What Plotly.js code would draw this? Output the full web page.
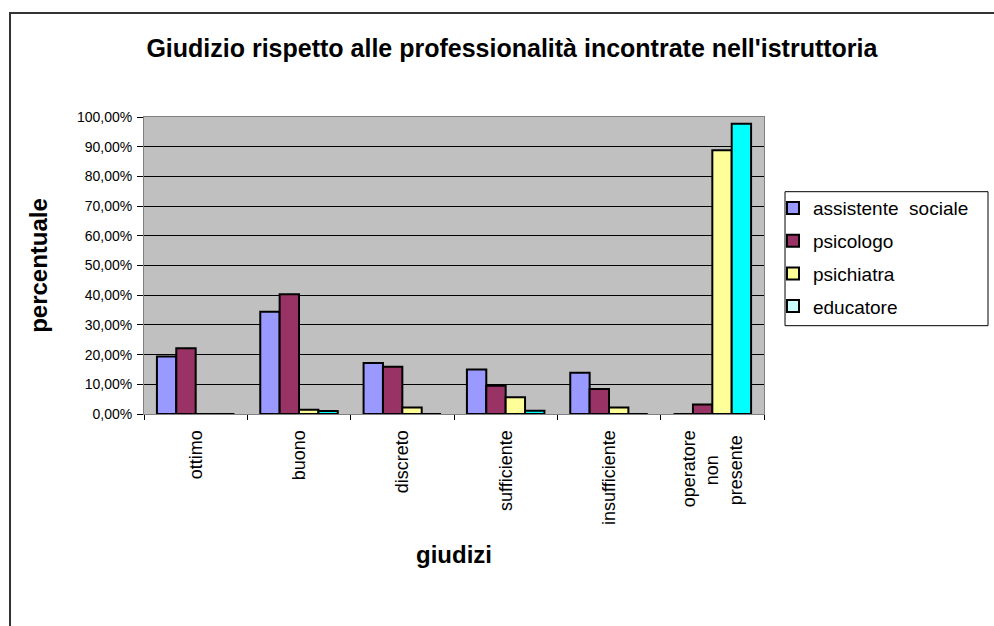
<!DOCTYPE html>
<html>
<head>
<meta charset="utf-8">
<script src="https://cdn.plot.ly/plotly-3.0.1.min.js"></script>
<style>html,body{margin:0;padding:0;background:#fff;}#chart{width:994px;height:626px;}</style>
</head>
<body>
<div id="chart"></div>
<script>
const categories = ['ottimo', 'buono', 'discreto', 'sufficiente', 'insufficiente',
  'operatore<br>non\u00a0\u00a0\u00a0\u00a0\u00a0<br>presente\u00a0'];
const seriesNames = ['assistente\u00a0 sociale', 'psicologo', 'psichiatra', 'educatore'];
const assistenteSociale = [0.194, 0.344, 0.172, 0.150, 0.139, 0];
const psicologo        = [0.221, 0.403, 0.159, 0.095, 0.084, 0.032];
const psichiatra       = [0, 0.014, 0.022, 0.056, 0.022, 0.888];
const educatore        = [0, 0.010, 0, 0.011, 0, 0.977];
const barColors    = ['#9999ff', '#993366', '#ffff99', '#00ffff'];
const legendColors = ['#9999ff', '#993366', '#ffff99', '#ccffff'];

const values = [assistenteSociale, psicologo, psichiatra, educatore];
const traces = [];
values.forEach((v, i) => {
  traces.push({
    type: 'bar', x: categories, y: v, name: seriesNames[i],
    marker: {color: barColors[i], line: {color: '#000', width: 2}},
    showlegend: false, legendgroup: 'g' + i
  });
});
values.forEach((v, i) => {
  traces.push({
    type: 'bar', x: ['_'], y: [null], name: seriesNames[i],
    xaxis: 'x2', yaxis: 'y2',
    marker: {color: legendColors[i], line: {color: '#000', width: 2}},
    showlegend: true, legendgroup: 'g' + i
  });
});

const layout = {
  width: 994, height: 626,
  margin: {l: 144, r: 230, t: 117, b: 212},
  paper_bgcolor: '#ffffff', plot_bgcolor: '#c0c0c0',
  font: {family: 'Liberation Sans, Arial, sans-serif', color: '#000'},
  separators: ',.',
  barmode: 'group', bargap: 0.25, bargroupgap: 0,
  title: {text: "<b>Giudizio rispetto alle professionalità incontrate nell'istruttoria</b>",
          font: {size: 25, color: '#000'}, x: 0.515, xanchor: 'center', y: 0.923, yanchor: 'middle'},
  xaxis: {
    type: 'category', tickangle: -90, tickson: 'boundaries',
    ticks: 'outside', ticklen: 5, tickcolor: '#000', tickwidth: 1,
    ticklabelstandoff: 8,
    tickfont: {size: 18, color: '#000'},
    showline: true, linecolor: '#808080', linewidth: 1, mirror: true,
    showgrid: false, zeroline: false,
    title: {text: '<b>giudizi</b>', font: {size: 24}, standoff: 22}
  },
  yaxis: {
    range: [0, 1], dtick: 0.1, tick0: 0, tickformat: '.2%',
    ticks: 'outside', ticklen: 6, tickcolor: '#000', tickwidth: 1,
    ticklabelstandoff: 2,
    tickfont: {size: 14, color: '#000'},
    showline: true, linecolor: '#808080', linewidth: 1, mirror: true,
    showgrid: true, gridcolor: '#000', gridwidth: 1, zeroline: false,
    title: {text: '<b>percentuale</b>', font: {size: 24}, standoff: 22}
  },
  xaxis2: {type: 'category', overlaying: 'x', visible: false, fixedrange: true},
  yaxis2: {overlaying: 'y', visible: false, range: [0, 1], fixedrange: true},
  legend: {
    x: 1.0145, xanchor: 'left', y: 0.757, yanchor: 'top',
    borderwidth: 0, bgcolor: 'rgba(0,0,0,0)',
    font: {size: 19, color: '#000'}, tracegroupgap: 5, itemwidth: 30
  },
  shapes: [
    {type: 'rect', xref: 'paper', yref: 'paper',
     x0: -0.2161, x1: 2, y0: -2, y1: 1.350,
     line: {color: '#333', width: 2}, fillcolor: 'rgba(0,0,0,0)', layer: 'below'},
    {type: 'rect', xref: 'paper', yref: 'paper',
     x0: 1.0339, x1: 1.3613, y0: 0.2973, y1: 0.7485,
     line: {color: '#000', width: 1}, fillcolor: 'rgba(0,0,0,0)', layer: 'below'}
  ]
};

Plotly.newPlot('chart', traces, layout, {displayModeBar: false, staticPlot: true});
</script>
</body>
</html>
